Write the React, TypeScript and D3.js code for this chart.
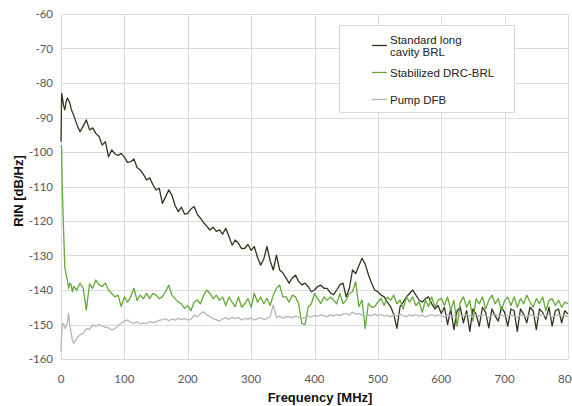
import * as d3 from "d3";
import React, { useEffect, useRef } from "react";

// frequency grid in MHz
const freq = [
  0, 1, 2, 4, 6, 8, 10, 12, 14, 16, 18,
  20, 25, 30, 35, 40, 45, 50, 55, 60, 65,
  70, 75, 80, 85, 90, 95, 100, 105, 110, 115,
  120, 125, 130, 135, 140, 145, 150, 155, 160, 165,
  170, 175, 180, 185, 190, 195, 200, 205, 210, 215,
  220, 225, 230, 235, 240, 245, 250, 255, 260, 265,
  270, 275, 280, 285, 290, 295, 300, 305, 310, 315,
  320, 325, 330, 335, 340, 345, 350, 355, 360, 365,
  370, 375, 380, 385, 390, 395, 400, 405, 410, 415,
  420, 425, 430, 435, 440, 445, 450, 455, 460, 465,
  470, 475, 480, 485, 490, 495, 500, 505, 510, 515,
  520, 525, 530, 535, 540, 545, 550, 555, 560, 565,
  570, 575, 580, 585, 590, 595, 600, 605, 610, 615,
  620, 625, 630, 635, 640, 645, 650, 655, 660, 665,
  670, 675, 680, 685, 690, 695, 700, 705, 710, 715,
  720, 725, 730, 735, 740, 745, 750, 755, 760, 765,
  770, 775, 780, 785, 790, 795, 800,
];

const standardBRL = [
  -97, -83, -84, -86.5, -87.8, -85.5, -84.4, -85, -85.9, -87.5, -88.5,
  -89.3, -92, -94.1, -92.5, -90.7, -93.6, -93, -94.6, -95.5, -98,
  -97, -101.4, -99.4, -100.5, -101, -100.4, -101.5, -103, -102.8, -102,
  -104.5, -105.2, -106.5, -108.1, -107.5, -109.5, -111, -110.5, -114.9, -113,
  -111, -112.5, -115.5, -117.3, -116, -118, -117.8, -116.5, -115.8, -118,
  -119.2, -120.5, -121.5, -122.6, -121.8, -123, -122.6, -123.8, -122.1, -124.5,
  -127, -125.5, -126.5, -128, -127.9, -126.8, -128.5, -127.4, -130.5, -132.8,
  -131, -127.4, -131.5, -134.2, -129.9, -134.2, -135, -136.5, -138, -136.5,
  -135.7, -137.5, -138.5, -138, -139, -140.5, -140, -139, -138.6, -139.5,
  -139.5, -140.8, -141.4, -140, -138.5, -138, -142, -139.5, -134.2, -135.2,
  -133, -130.8, -132.5, -135.5, -138, -140, -140.5, -141.5, -142, -143.5,
  -144.8, -147, -151.1, -144.8, -143.5, -142, -141, -140, -141.5, -142.9,
  -143.5, -142.5, -142, -144, -145.5, -144.5, -146.8, -145, -150, -145.5,
  -151.5, -146, -145, -149.5, -146, -152, -145.5, -147, -150.5, -145,
  -146.5, -151, -145.5, -147.5, -149, -145, -146.5, -150.5, -145.5, -146,
  -152, -145.5, -147, -149.5, -145, -146, -151.5, -145.5, -146.5, -148.5,
  -145, -150.5, -146, -145.5, -149.5, -146, -147,
];

const stabilizedDRC = [
  -98, -99, -110, -122.6, -133.3, -135.5, -137.1, -139.5, -138, -138.6, -140.5,
  -139, -140, -138, -139.5, -145.8, -138.2, -139.5, -137.1, -138.5, -139,
  -138, -140, -141, -142, -141.5, -144.8, -142, -143.5, -142, -139.5,
  -143, -141.5, -142.5, -141, -142.5, -141, -141.5, -142.5, -142, -140.5,
  -138.6, -141.5, -142.5, -143.5, -144, -145.3, -144.5, -146, -143.5, -142.9,
  -144, -141.5, -140, -141, -142.5, -141.5, -143, -142, -144.5, -142,
  -143.5, -144.8, -142, -145, -144, -142.5, -145, -141, -143.5, -142,
  -144, -142.4, -144.5, -141.5, -139.5, -138.6, -142, -142, -143.5, -141.5,
  -142, -144, -149.7, -150, -145, -144, -141, -142.5, -143.9, -142,
  -143, -142, -142.9, -144, -141, -143.9, -143, -141, -140.5, -137.6,
  -144.8, -142.9, -151.1, -143.9, -145, -144.8, -143.5, -142.4, -144.5, -142,
  -143, -141.5, -144, -142.9, -145.5, -142, -143.5, -142, -144.5, -143.4,
  -146.5, -143, -144.8, -142, -145, -143, -142.4, -144.5, -142, -146,
  -143, -150.5, -143.5, -142, -145, -143, -149, -142.5, -144, -142,
  -145.5, -143, -141.5, -144, -142.5, -146, -143, -142, -144.5, -142,
  -145, -142.5, -144, -141.5, -143.5, -145, -142.5, -144, -142, -146,
  -143, -142.5, -144.5, -143, -145, -143.5, -144,
];

const pumpDFB = [
  -158, -153, -150, -149.7, -151.1, -150.5, -149.5, -146.8, -150, -152.6, -154.5,
  -155.4, -154, -153, -152.6, -151.1, -151.5, -150.1, -150.5, -150, -150.5,
  -150.8, -151, -151.6, -151.2, -150.3, -149.7, -149, -148.7, -149.3, -149.7,
  -149.2, -149.8, -149.5, -149.7, -149.2, -149.4, -149.2, -148.8, -148.6, -148.3,
  -148.9, -148.4, -148.7, -148.2, -148.6, -148.3, -148.7, -148.5, -147.3, -147.8,
  -146.8, -146.3, -147.2, -147.7, -148.3, -148.6, -149, -148.4, -148, -148.5,
  -147.9, -148.3, -148, -148.7, -148.2, -148.5, -148.1, -148.7, -148.3, -148,
  -148.6, -148.2, -147.8, -144.3, -148, -147.6, -148.2, -147.7, -147.7, -148.1,
  -147.5, -147.9, -148.3, -148, -147.6, -147.9, -147.3, -147.6, -147.2, -147.4,
  -147.8, -147.2, -147.5, -147.1, -147.4, -147, -146.8, -147.3, -146.4, -147,
  -146.8, -147.3, -147.6, -147.2, -147.5, -147, -147.4, -147.1, -147.6, -147.3,
  -147.8, -147.2, -147.5, -147, -147.4, -147.7, -147.2, -147.5, -147.1, -147.6,
  -147.3, -147.8, -147.4, -147.1, -147.6, -147.3, -147.5, -147.8, -147.2, -147.6,
  -147.4, -147.9, -147.3, -147.6, -147.1, -147.5, -147.8, -147.3, -147.6, -147.2,
  -147.5, -147.9, -147.4, -147.1, -147.6, -147.3, -147.7, -147.4, -147.2, -147.6,
  -147.9, -147.3, -147.5, -147.8, -147.2, -147.5, -147.9, -147.4, -147.1, -147.6,
  -147.3, -147.8, -147.5, -147.2, -147.6, -147.4, -147.7,
];

const seriesNames = ["Standard long cavity BRL", "Stabilized DRC-BRL", "Pump DFB"];
const seriesColors = ["#34331f", "#62a935", "#b5b5b5"];
const xTicks = [0, 100, 200, 300, 400, 500, 600, 700, 800];
const yTicks = [-60, -70, -80, -90, -100, -110, -120, -130, -140, -150, -160];

export default function App() {
  const ref = useRef<SVGSVGElement>(null);

  useEffect(() => {
    const svg = d3.select(ref.current);
    svg.selectAll("*").remove();

    const left = 61, right = 568, top = 14, bottom = 359;
    const x = d3.scaleLinear().domain([0, 800]).range([left, right]);
    const y = d3.scaleLinear().domain([-160, -60]).range([bottom, top]);

    // gridlines
    const grid = svg.append("g").attr("stroke", "#dcdcdc").attr("stroke-width", 1);
    grid.selectAll("line.h").data(yTicks).enter().append("line")
      .attr("x1", left).attr("x2", right)
      .attr("y1", (d) => Math.round(y(d)) + 0.5).attr("y2", (d) => Math.round(y(d)) + 0.5);
    grid.selectAll("line.v").data(xTicks).enter().append("line")
      .attr("y1", top).attr("y2", bottom)
      .attr("x1", (d) => Math.round(x(d)) + 0.5).attr("x2", (d) => Math.round(x(d)) + 0.5);

    // tick labels
    svg.append("g").selectAll("text").data(yTicks).enter().append("text")
      .attr("x", 53).attr("y", (d) => y(d) + 4)
      .attr("text-anchor", "end")
      .attr("font-family", "Lato, 'Open Sans', sans-serif").attr("font-size", 11.5)
      .attr("fill", "#595959")
      .text((d) => d);
    svg.append("g").selectAll("text").data(xTicks).enter().append("text")
      .attr("x", (d) => x(d)).attr("y", 383)
      .attr("text-anchor", "middle")
      .attr("font-family", "Lato, 'Open Sans', sans-serif").attr("font-size", 11.5)
      .attr("fill", "#595959")
      .text((d) => d);

    // axis titles
    svg.append("text")
      .attr("x", 320).attr("y", 402).attr("text-anchor", "middle")
      .attr("font-family", "'Liberation Sans', Arial, sans-serif")
      .attr("font-weight", "bold").attr("font-size", 13).attr("fill", "#111")
      .text("Frequency [MHz]");
    svg.append("text")
      .attr("transform", "translate(23,191) rotate(-90)").attr("text-anchor", "middle")
      .attr("font-family", "'Liberation Sans', Arial, sans-serif")
      .attr("font-weight", "bold").attr("font-size", 13).attr("fill", "#111")
      .text("RIN [dB/Hz]");

    // lines
    const allSeries = [standardBRL, stabilizedDRC, pumpDFB];
    const line = d3.line<number>()
      .x((_, i) => x(freq[i]))
      .y((d) => y(d));
    svg.append("g").selectAll("path").data(allSeries).enter().append("path")
      .attr("d", (d) => line(d))
      .attr("fill", "none")
      .attr("stroke", (_, i) => seriesColors[i])
      .attr("stroke-width", 1.3)
      .attr("stroke-linejoin", "round");

    // legend
    const lg = svg.append("g");
    lg.append("rect")
      .attr("x", 339.5).attr("y", 25.5).attr("width", 175).attr("height", 87)
      .attr("fill", "#fff").attr("stroke", "#d9d9d9");
    const legendRows = [
      { lines: ["Standard long", "cavity BRL"], y: 45.5 },
      { lines: ["Stabilized DRC-BRL"], y: 72.5 },
      { lines: ["Pump DFB"], y: 99.5 },
    ];
    legendRows.forEach((row, i) => {
      lg.append("line")
        .attr("x1", 372).attr("x2", 387).attr("y1", row.y).attr("y2", row.y)
        .attr("stroke", seriesColors[i]).attr("stroke-width", 1.3);
      row.lines.forEach((t, j) => {
        lg.append("text")
          .attr("x", 390).attr("y", (i === 0 ? 44 : row.y + 4) + j * 12)
          .attr("font-family", "'Liberation Sans', Arial, sans-serif")
          .attr("font-size", 11.5).attr("fill", "#222")
          .text(t);
      });
    });
    lg.attr("data-names", seriesNames.join("|"));
  }, []);

  return (
    <svg
      ref={ref}
      width={572}
      height={406}
      style={{ position: "absolute", left: 0, top: 0, background: "#fff" }}
    />
  );
}
